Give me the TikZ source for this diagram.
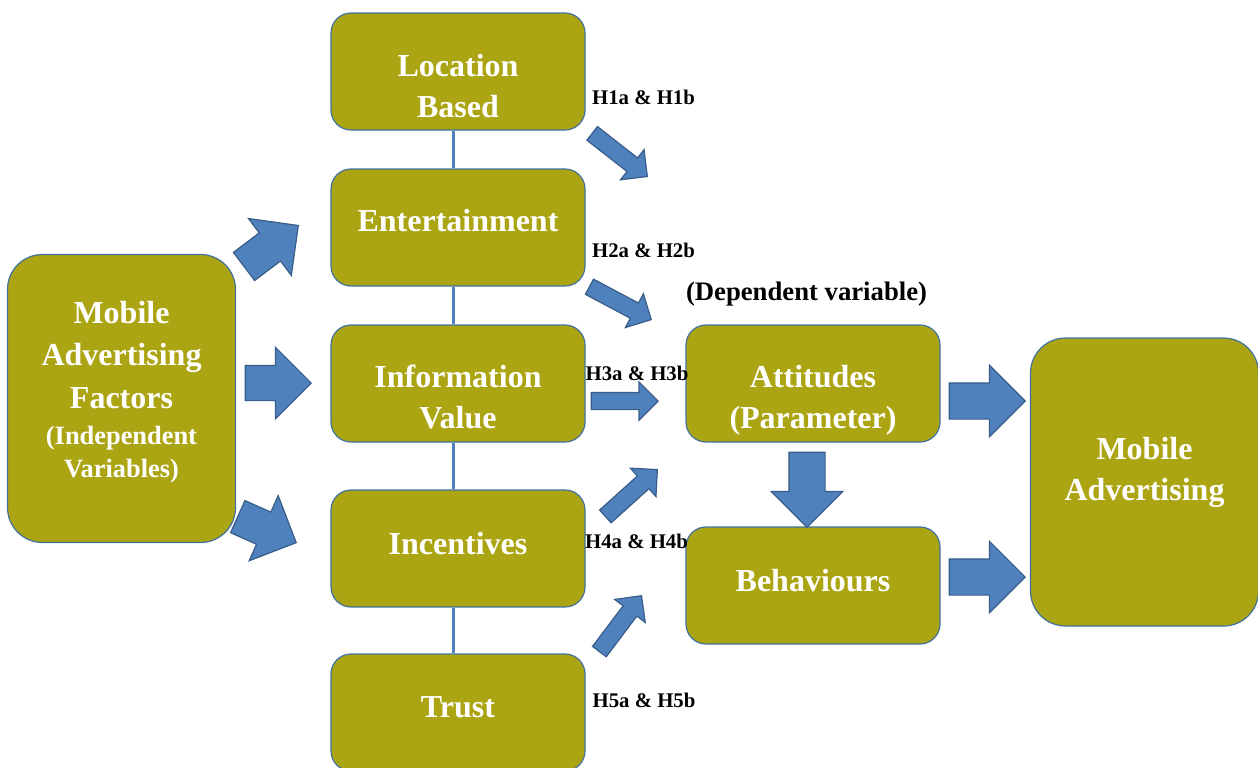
\documentclass[tikz,border=0pt]{standalone}
\usepackage{fontspec}
\setmainfont{Liberation Serif}
\usepackage{tikz}
\usetikzlibrary{shapes}
\usetikzlibrary{shapes.arrows}
\definecolor{olivebox}{RGB}{172,165,19}
\definecolor{boxline}{RGB}{65,113,156}
\definecolor{arrowblue}{RGB}{79,129,189}
\definecolor{arrowline}{RGB}{56,93,138}
\tikzstyle{factor} = [rectangle, rounded corners=10pt, minimum width=127pt, minimum height=58.5pt, inner sep=0pt, text centered, draw=boxline, line width=0.6pt, fill=olivebox, text=white, font=\fontsize{16}{20.5}\selectfont\bfseries]
\tikzstyle{mainbox} = [factor, rounded corners=17.5pt, minimum width=114pt, minimum height=144pt]
\tikzstyle{bigarrow} = [single arrow, anchor=tip, minimum height=34pt, inner sep=0pt, inner ysep=8.5pt, single arrow head extend=9pt, draw=arrowline, line width=0.6pt, fill=arrowblue]
\tikzstyle{hyparrow} = [bigarrow, minimum height=35pt, inner ysep=4pt, single arrow head extend=5.25pt]
\tikzstyle{outarrow} = [bigarrow, minimum height=38pt, inner ysep=8.75pt, single arrow head extend=8.75pt]
\tikzstyle{link} = [draw=arrowblue, line width=1.5pt]
\tikzstyle{hyp} = [font=\fontsize{10.4}{12}\selectfont\bfseries]

\begin{document}
\begin{tikzpicture}[x=0.5pt, y=-0.5pt, node distance=78pt]
    \useasboundingbox (0,0) rectangle (1258,767);

    % middle column
    \node(Location)[factor] at (458,71.5) {\parbox{120pt}{\centering \vspace{15pt}Location\\ Based}};
    \node(Entertainment)[factor, below of=Location]{\parbox{120pt}{\centering Entertainment\par\vspace{6.5pt}}};
    \node(Information)[factor, below of=Entertainment]{\parbox{120pt}{\centering \vspace{13pt}Information\\ Value}};
    \node(Incentives)[factor, below of=Information, yshift=-4.5pt]{\parbox{120pt}{\centering Incentives\par\vspace{5pt}}};
    \node(Trust)[factor, below of=Incentives, yshift=-4pt]{\parbox{120pt}{\centering Trust\par\vspace{5.5pt}}};

    \draw[link] ([xshift=-2.5pt]Location.south) -- ([xshift=-2.5pt]Entertainment.north);
    \draw[link] ([xshift=-2.5pt]Entertainment.south) -- ([xshift=-2.5pt]Information.north);
    \draw[link] ([xshift=-2.5pt]Information.south) -- ([xshift=-2.5pt]Incentives.north);
    \draw[link] ([xshift=-2.5pt]Incentives.south) -- ([xshift=-2.5pt]Trust.north);

    % left and right
    \node(Factors)[mainbox] at (121.5,398.5) {\parbox{110pt}{\centering \fontsize{16}{21.25}\selectfont Mobile\\ Advertising\\ Factors\par
      \vspace{1.5pt}\fontsize{13.2}{16.5}\selectfont (Independent\\ Variables)\par\vspace{6.5pt}}};
    \node(Attitudes)[factor, right of=Information, xshift=99.5pt]{\parbox{120pt}{\centering \vspace{17pt}Attitudes\\ (Parameter)}};
    \node(Behaviours)[factor, below of=Attitudes, yshift=-23pt]{\parbox{120pt}{\centering Behaviours\par\vspace{5pt}}};
    \node(Mobile)[mainbox] at (1144.5,482) {\parbox{110pt}{\centering Mobile\\ Advertising\par\vspace{10pt}}};

    % block arrows
    \node(ToEnt)[bigarrow, rotate=37] at (299,225) {};
    \node(ToInfo)[bigarrow, minimum height=33pt] at (312,383) {};
    \node(ToInc)[bigarrow, rotate=-24, minimum height=32pt] at (297,543) {};
    \node(H1arrow)[hyparrow, rotate=-38] at (648,177) {};
    \node(H2arrow)[hyparrow, rotate=-28] at (652,320) {};
    \node(H3arrow)[hyparrow, minimum height=33.5pt] at (659,401) {};
    \node(H4arrow)[hyparrow, rotate=42] at (658,469) {};
    \node(H5arrow)[hyparrow, rotate=53] at (642,595) {};
    \node(AttOut)[outarrow] at (1026,401) {};
    \node(BehOut)[outarrow] at (1026,577) {};
    \node(AttBeh)[outarrow, rotate=-90, minimum height=37.5pt] at (807,528) {};

    % labels
    \node(H1)[hyp] at (643.5,97) {H1a \& H1b};
    \node(H2)[hyp] at (643.5,250) {H2a \& H2b};
    \node(H3)[hyp] at (637,373.5) {H3a \& H3b};
    \node(H4)[hyp] at (636.5,541.5) {H4a \& H4b};
    \node(H5)[hyp] at (644,700) {H5a \& H5b};
    \node(Dependent)[hyp, font=\fontsize{13.35}{15}\selectfont\bfseries] at (806.5,294) {(Dependent variable)};
\end{tikzpicture}
\end{document}
